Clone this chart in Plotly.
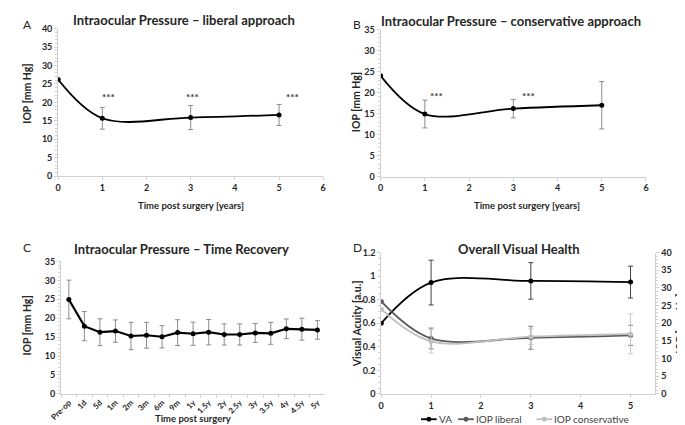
import plotly.graph_objects as go

# ---------------- data ----------------
years = [0, 1, 3, 5]
iop_liberal = [26.2, 15.7, 15.9, 16.6]
iop_liberal_err = [0, 2.95, 3.25, 2.85]
iop_conservative = [24.0, 14.9, 16.2, 17.0]
iop_conservative_err = [0, 3.3, 2.2, 5.65]

recovery_labels = ["Pre-op", "1d", "5d", "1m", "2m", "3m", "6m", "9m", "1y", "1.5y",
                   "2y", "2.5y", "3y", "3.5y", "4y", "4.5y", "5y"]
recovery_iop = [24.95, 17.9, 16.3, 16.6, 15.3, 15.5, 15.1, 16.2, 15.9, 16.3,
                15.7, 15.7, 16.1, 16.0, 17.2, 17.1, 16.9]
recovery_err = [5.1, 3.85, 3.55, 2.95, 3.6, 3.4, 2.95, 3.4, 3.05, 3.35,
                2.8, 2.8, 2.5, 2.9, 2.6, 2.9, 2.45]

va = [0.60, 0.946, 0.96, 0.95]
va_err = [0, 0.19, 0.155, 0.135]

stars_a_x = [1.15, 3.03, 5.3]
stars_a_y = [21.4, 21.4, 21.4]
stars_b_x = [1.27, 3.34]
stars_b_y = [19.2, 19.2]

legend_names = ["VA", "IOP liberal", "IOP conservative"]
legend_colors = ["black", "#595959", "#bfbfbf"]

FONT = "Lato"
W, H = 685, 425


def px(x):
    return x / W


def py(y):
    return 1 - y / H


fig = go.Figure()

ERR = "#8c8c8c"
err_common = dict(type="data", thickness=1, width=2.5, color=ERR, visible=True)
LW = 1.8
MS = 5

# Panel A
fig.add_trace(go.Scatter(x=years, y=iop_liberal, mode="lines+markers",
                         line=dict(color="black", width=LW, shape="spline", smoothing=1),
                         marker=dict(color="black", size=MS),
                         error_y=dict(array=iop_liberal_err, **err_common),
                         xaxis="x", yaxis="y", showlegend=False))
# Panel B
fig.add_trace(go.Scatter(x=years, y=iop_conservative, mode="lines+markers",
                         line=dict(color="black", width=LW, shape="spline", smoothing=1),
                         marker=dict(color="black", size=MS),
                         error_y=dict(array=iop_conservative_err, **err_common),
                         xaxis="x2", yaxis="y2", showlegend=False))
# Panel C
fig.add_trace(go.Scatter(x=recovery_labels, y=recovery_iop, mode="lines+markers",
                         line=dict(color="black", width=2.2),
                         marker=dict(color="black", size=MS),
                         error_y=dict(array=recovery_err, **err_common),
                         xaxis="x3", yaxis="y3", showlegend=False))
# Panel D
fig.add_trace(go.Scatter(x=years, y=va, mode="lines+markers", name=legend_names[0],
                         line=dict(color=legend_colors[0], width=LW, shape="spline", smoothing=1),
                         marker=dict(color=legend_colors[0], size=MS),
                         error_y=dict(array=va_err, type="data", thickness=1, width=2.5,
                                      color="#404040"),
                         xaxis="x4", yaxis="y4", showlegend=False))
fig.add_trace(go.Scatter(x=years, y=iop_liberal, mode="lines+markers", name=legend_names[1],
                         line=dict(color=legend_colors[1], width=LW, shape="spline", smoothing=1),
                         marker=dict(color=legend_colors[1], size=MS),
                         error_y=dict(array=iop_liberal_err, type="data", thickness=1, width=2.5,
                                      color="#7f7f7f"),
                         xaxis="x4", yaxis="y5", showlegend=False))
fig.add_trace(go.Scatter(x=years, y=iop_conservative, mode="lines+markers", name=legend_names[2],
                         line=dict(color=legend_colors[2], width=LW, shape="spline", smoothing=1),
                         marker=dict(color=legend_colors[2], size=MS),
                         error_y=dict(array=iop_conservative_err, type="data", thickness=1, width=2.5,
                                      color="#c8c8c8"),
                         xaxis="x4", yaxis="y5", showlegend=False))

AXC = "#d0d0d0"
tickfont = dict(family=FONT, size=9, color="#262626", weight="bold")


def yax(dom, rng, dtick, anchor, side="left", overlaying=None):
    d = dict(domain=dom, range=rng, dtick=dtick, anchor=anchor, side=side,
             showgrid=False, zeroline=False, showline=True, linecolor=AXC, linewidth=1,
             ticks="outside", ticklen=3, tickcolor=AXC,
             minor=dict(ticks="outside", ticklen=2, tickcolor=AXC, nticks=6),
             tickfont=tickfont)
    if overlaying:
        d["overlaying"] = overlaying
    return d


def xax(dom, rng, anchor, dtick=1):
    return dict(domain=dom, range=rng, dtick=dtick, anchor=anchor,
                showgrid=False, zeroline=False, showline=True, linecolor=AXC, linewidth=1,
                ticks="outside", ticklen=3, tickcolor=AXC, tickfont=tickfont)


fig.update_layout(
    width=W, height=H, margin=dict(l=0, r=0, t=0, b=0),
    paper_bgcolor="white", plot_bgcolor="white",
    font=dict(family=FONT, color="#262626"),
    showlegend=False,
    xaxis=xax([px(39), px(310)], [0, 6], "y"),
    yaxis=yax([py(166.5), py(15)], [0, 40], 5, "x"),
    xaxis2=xax([px(368.7), px(640)], [0, 6], "y2"),
    yaxis2=yax([py(167), py(16)], [0, 35], 5, "x2"),
    xaxis3=dict(domain=[px(42), px(312)], range=[-0.5, 16.5], anchor="y3", type="category",
                showgrid=False, zeroline=False, showline=True, linecolor=AXC,
                ticks="outside", ticklen=3, tickcolor=AXC, tickangle=-45,
                tickson="boundaries",
                tickfont=dict(family=FONT, size=8, color="#262626", weight="bold")),
    yaxis3=yax([py(390), py(254)], [0, 35], 5, "x3"),
    xaxis4=xax([px(369.3), px(649.7)], [0, 5.5], "y4"),
    yaxis4=yax([py(390), py(245)], [0, 1.2], 0.2, "x4"),
    yaxis5=yax([py(390), py(245)], [0, 40], 5, "x4", side="right", overlaying="y4"),
)

ann = []
shapes = []
# stars
for x, y in zip(stars_a_x, stars_a_y):
    ann.append(dict(x=x, y=y, xref="x", yref="y", text="***", showarrow=False,
                    font=dict(family=FONT, size=10, color="#404040", weight="bold")))
for x, y in zip(stars_b_x, stars_b_y):
    ann.append(dict(x=x, y=y, xref="x2", yref="y2", text="***", showarrow=False,
                    font=dict(family=FONT, size=10, color="#404040", weight="bold")))

titlefont = dict(family=FONT, size=13, color="#262626", weight="bold")
titles = [("Intraocular Pressure – liberal approach", 168, 6),
          ("Intraocular Pressure – conservative approach", 502, 7),
          ("Intraocular Pressure – Time Recovery", 165, 241),
          ("Overall Visual Health", 510, 241)]
for t, x, y in titles:
    ann.append(dict(x=px(x), y=py(y), xref="paper", yref="paper", text=t, showarrow=False,
                    xanchor="center", yanchor="middle", font=titlefont))

letters = [("A", 8, 11), ("B", 345, 11), ("C", 7, 240), ("D", 345, 240)]
for t, x, y in letters:
    ann.append(dict(x=px(x), y=py(y), xref="paper", yref="paper", text=t, showarrow=False,
                    xanchor="center", yanchor="middle",
                    font=dict(family=FONT, size=12, color="#262626")))

axfont = dict(family=FONT, size=9.5, color="#262626", weight="bold")
xtitles = [("Time post surgery [years]", 175, 197), ("Time post surgery [years]", 518, 197),
           ("Time post surgery", 177, 415)]
for t, x, y in xtitles:
    ann.append(dict(x=px(x), y=py(y), xref="paper", yref="paper", text=t, showarrow=False,
                    xanchor="center", yanchor="middle", font=axfont))
yfont = dict(family=FONT, size=10.5, color="#262626", weight="bold")
ytitles = [("IOP [mm Hg]", 7, 82), ("IOP [mm Hg]", 343, 90), ("IOP [mm Hg]", 7, 320),
           ("Visual Acuity [a.u.]", 344, 318)]
for t, x, y in ytitles:
    ann.append(dict(x=px(x), y=py(y), xref="paper", yref="paper", text=t, showarrow=False,
                    xanchor="center", yanchor="middle", textangle=-90, font=yfont))
# right-hand IOP title in panel D: anchored by its right edge so it stays inside the page
ann.append(dict(x=px(683), y=py(318), xref="paper", yref="paper", text="IOP [mm Hg]",
                showarrow=False, xanchor="right", yanchor="middle", textangle=-90,
                font=yfont))

# compact legend for panel D (line + marker glyph followed by name)
leg_x = [410, 448, 528]
leg_y = 416
for name, color, x0 in zip(legend_names, legend_colors, leg_x):
    shapes.append(dict(type="line", xref="paper", yref="paper",
                       x0=px(x0), x1=px(x0 + 16), y0=py(leg_y), y1=py(leg_y),
                       line=dict(color=color, width=LW)))
    shapes.append(dict(type="circle", xref="paper", yref="paper",
                       x0=px(x0 + 5.5), x1=px(x0 + 10.5), y0=py(leg_y + 2.5), y1=py(leg_y - 2.5),
                       fillcolor=color, line=dict(color=color, width=0)))
    ann.append(dict(x=px(x0 + 16), y=py(leg_y), xref="paper", yref="paper", text=name,
                    showarrow=False, xanchor="left", yanchor="middle",
                    font=dict(family=FONT, size=10, color="#404040")))

fig.update_layout(annotations=ann, shapes=shapes)
fig.write_html("out.html")
